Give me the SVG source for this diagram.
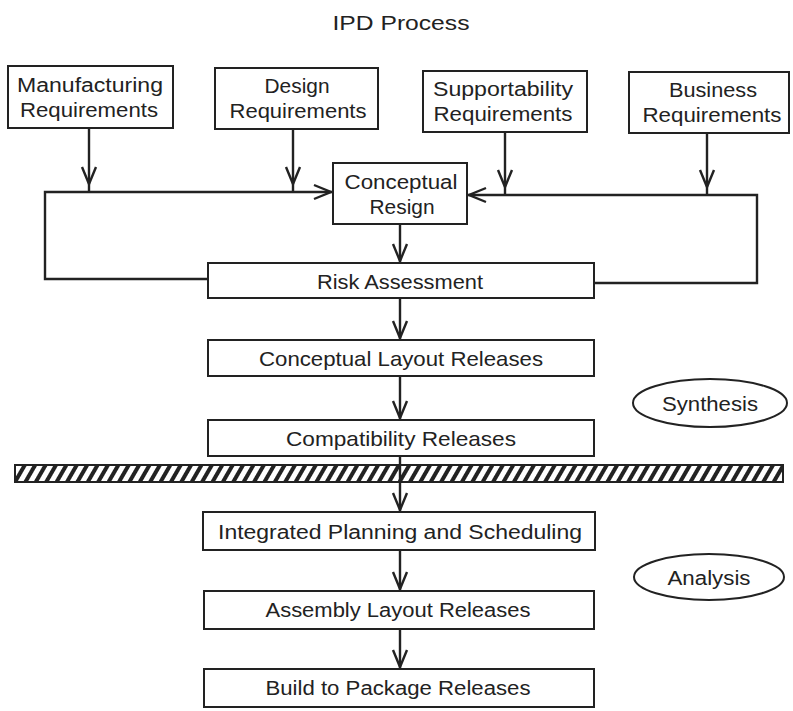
<svg xmlns="http://www.w3.org/2000/svg" width="793" height="711" viewBox="0 0 793 711">
<style>
.box{fill:#fff;stroke:#222;stroke-width:2}
.t{font-family:"Liberation Sans",Arial,sans-serif;font-size:20px;fill:#222;text-anchor:middle}
.c{font-family:"Liberation Sans",Arial,sans-serif;font-size:21px;fill:#222;text-anchor:middle}
.ln{fill:none;stroke:#222;stroke-width:2.4}
</style>
<defs>
<marker id="a" markerUnits="userSpaceOnUse" markerWidth="30" markerHeight="30" viewBox="-20 -10 30 20" refX="8" refY="0" orient="auto" overflow="visible">
<path d="M-17,-7 L0,0 L-17,7" fill="none" stroke="#222" stroke-width="2.4"/>
</marker>
<marker id="b" markerUnits="userSpaceOnUse" markerWidth="30" markerHeight="30" viewBox="-20 -10 30 20" refX="2" refY="0" orient="auto" overflow="visible">
<path d="M-17,-7 L0,0 L-17,7" fill="none" stroke="#222" stroke-width="2.4"/>
</marker>
<pattern id="h" patternUnits="userSpaceOnUse" width="9" height="20" patternTransform="rotate(30)">
<rect x="0" y="0" width="4" height="20" fill="#222"/>
</pattern>
</defs>
<rect width="793" height="711" fill="#fff"/>
<text class="t" x="401" y="30" font-size="21" textLength="137" lengthAdjust="spacingAndGlyphs">IPD Process</text>

<rect x="15" y="465" width="768" height="17" fill="url(#h)" stroke="#222" stroke-width="2"/>

<g id="connectors">
<path class="ln" d="M89,128 V192" marker-end="url(#a)"/>
<path class="ln" d="M293,129 V192" marker-end="url(#a)"/>
<path class="ln" d="M505,132 V195" marker-end="url(#a)"/>
<path class="ln" d="M707,133 V195" marker-end="url(#a)"/>
<path class="ln" d="M208,279 H45 V192 H333" marker-end="url(#b)"/>
<path class="ln" d="M594,283 H757 V195 H467" marker-end="url(#b)"/>
<path class="ln" d="M400,224 V263" marker-end="url(#b)"/>
<path class="ln" d="M400,298 V340" marker-end="url(#b)"/>
<path class="ln" d="M400,376 V420" marker-end="url(#b)"/>
<path class="ln" d="M400,456 V512" marker-end="url(#b)"/>
<path class="ln" d="M400,550 V591" marker-end="url(#b)"/>
<path class="ln" d="M400,629 V669" marker-end="url(#b)"/>
</g>

<g id="manufacturing">
<rect class="box" x="8" y="66" width="165" height="62"/>
<text class="t" x="90" y="92" textLength="146" lengthAdjust="spacingAndGlyphs">Manufacturing</text>
<text class="t" x="89" y="117" textLength="138" lengthAdjust="spacingAndGlyphs">Requirements</text>
</g>
<g id="design">
<rect class="box" x="215" y="68" width="163" height="61"/>
<text class="t" x="297" y="93" textLength="65" lengthAdjust="spacingAndGlyphs">Design</text>
<text class="t" x="298" y="118" textLength="137" lengthAdjust="spacingAndGlyphs">Requirements</text>
</g>
<g id="supportability">
<rect class="box" x="423" y="71" width="164" height="61"/>
<text class="t" x="503" y="96" textLength="140" lengthAdjust="spacingAndGlyphs">Supportability</text>
<text class="t" x="503" y="121" textLength="139" lengthAdjust="spacingAndGlyphs">Requirements</text>
</g>
<g id="business">
<rect class="box" x="629" y="72" width="160" height="61"/>
<text class="t" x="713" y="97" textLength="88" lengthAdjust="spacingAndGlyphs">Business</text>
<text class="t" x="712" y="122" textLength="139" lengthAdjust="spacingAndGlyphs">Requirements</text>
</g>
<g id="conceptual-resign">
<rect class="box" x="333" y="163" width="134" height="61"/>
<text class="t" x="401" y="189" textLength="113" lengthAdjust="spacingAndGlyphs">Conceptual</text>
<text class="t" x="402" y="214" textLength="65" lengthAdjust="spacingAndGlyphs">Resign</text>
</g>
<g id="risk">
<rect class="box" x="208" y="263" width="386" height="35"/>
<text class="t" x="400" y="289" textLength="166" lengthAdjust="spacingAndGlyphs">Risk Assessment</text>
</g>
<g id="conceptual-layout">
<rect class="box" x="208" y="340" width="386" height="36"/>
<text class="c" x="401" y="366" textLength="284" lengthAdjust="spacingAndGlyphs">Conceptual Layout Releases</text>
</g>
<g id="compatibility">
<rect class="box" x="208" y="420" width="386" height="36"/>
<text class="c" x="401" y="446" textLength="230" lengthAdjust="spacingAndGlyphs">Compatibility Releases</text>
</g>
<g id="synthesis">
<ellipse cx="710" cy="403" rx="77" ry="24" fill="#fff" stroke="#222" stroke-width="2"/>
<text class="c" x="710" y="411" textLength="96" lengthAdjust="spacingAndGlyphs">Synthesis</text>
</g>
<g id="integrated">
<rect class="box" x="203" y="512" width="392" height="38"/>
<text class="t" x="400" y="539" textLength="364" lengthAdjust="spacingAndGlyphs">Integrated Planning and Scheduling</text>
</g>
<g id="analysis">
<ellipse cx="709" cy="577" rx="75" ry="23" fill="#fff" stroke="#222" stroke-width="2"/>
<text class="t" x="709" y="585" textLength="83" lengthAdjust="spacingAndGlyphs">Analysis</text>
</g>
<g id="assembly">
<rect class="box" x="204" y="591" width="390" height="38"/>
<text class="t" x="398" y="617" textLength="265" lengthAdjust="spacingAndGlyphs">Assembly Layout Releases</text>
</g>
<g id="build">
<rect class="box" x="204" y="669" width="390" height="38"/>
<text class="t" x="398" y="695" textLength="265" lengthAdjust="spacingAndGlyphs">Build to Package Releases</text>
</g>
</svg>
